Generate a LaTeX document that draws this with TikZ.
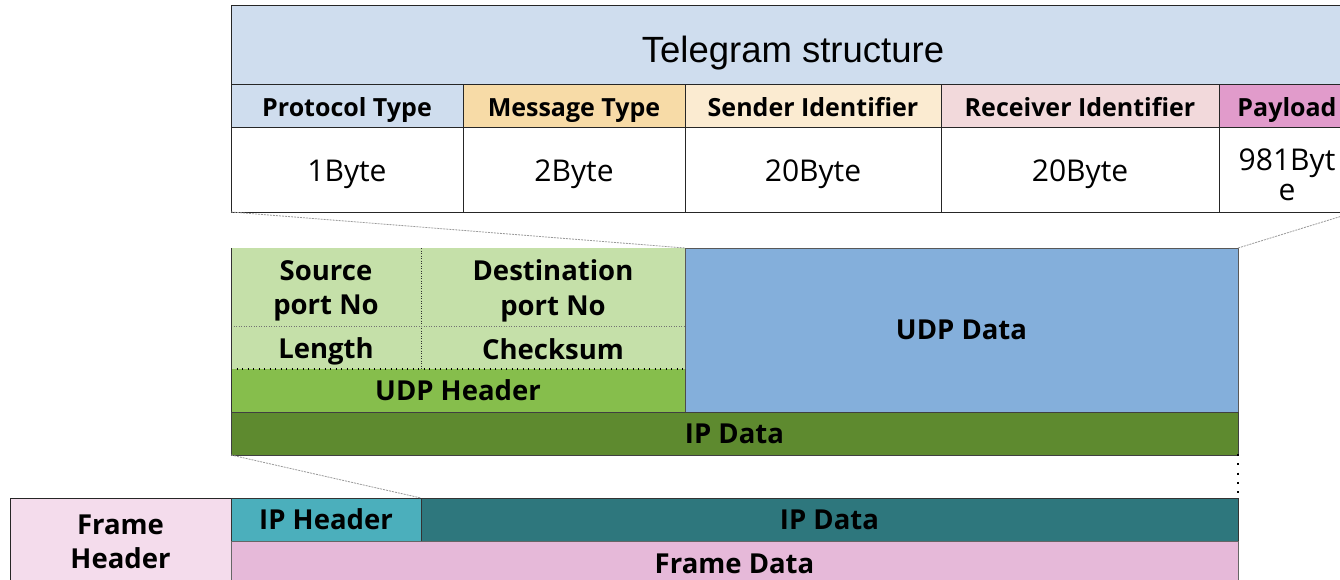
\documentclass[tikz,border=0pt]{standalone}
\usepackage{fontspec}
\setmainfont{Open Sans}
\newfontfamily\titlefont{Liberation Sans}

% fill colours
\definecolor{tblue}{HTML}{CFDDEE}
\definecolor{msgtan}{HTML}{F7DBA7}
\definecolor{sndcream}{HTML}{FBEBD1}
\definecolor{rcvrose}{HTML}{F2D9DB}
\definecolor{paymag}{HTML}{E19BCB}
\definecolor{udplight}{HTML}{C5E0A9}
\definecolor{udpmid}{HTML}{86BE4C}
\definecolor{ipgreen}{HTML}{5E8A2F}
\definecolor{udpblue}{HTML}{84AFDB}
\definecolor{iphteal}{HTML}{4BAFBC}
\definecolor{ipdteal}{HTML}{2E777D}
\definecolor{framepink}{HTML}{E6B9D9}
\definecolor{fhpink}{HTML}{F4DCEC}

\tikzset{
  box/.style={anchor=north west, inner sep=0pt, outer sep=0pt, align=center, text=black},
  tcell/.style={box, draw=black!85, line width=1pt},
  txt/.style={inner sep=0pt, align=center, text=black},
  titlefnt/.style={txt, font=\titlefont\fontsize{36.5}{40}\selectfont},
  hdrfont/.style={txt, font=\fontsize{25}{28}\selectfont\bfseries, text height=18pt, text depth=0pt},
  valfont/.style={txt, font=\fontsize{30}{31}\selectfont},
  lblfont/.style={font=\fontsize{27.5}{34.5}\selectfont\bfseries},
  blk/.style={box, lblfont},
  lbl/.style={txt, lblfont},
  zoomline/.style={draw=black!40, line width=0.8pt, dash pattern=on 2pt off 1pt},
}

\begin{document}
\begin{tikzpicture}[x=1pt, y=-1pt]
\useasboundingbox (0,0) rectangle (1340,580);
\clip (0,0) rectangle (1340,580);

% ---------- telegram table ----------
\node[tcell, fill=tblue, minimum width=1124pt, minimum height=79pt] (title) at (231,6) {};

\node[tcell, fill=tblue,    minimum width=232pt, minimum height=43pt] (hproto) at (231,85)  {};
\node[tcell, fill=msgtan,   minimum width=222pt, minimum height=43pt] (hmsg)   at (463,85)  {};
\node[tcell, fill=sndcream, minimum width=256pt, minimum height=43pt] (hsnd)   at (685,85)  {};
\node[tcell, fill=rcvrose,  minimum width=278pt, minimum height=43pt] (hrcv)   at (941,85)  {};
\node[tcell, fill=paymag,   minimum width=136pt, minimum height=43pt] (hpay)   at (1219,85) {};

\node[tcell, fill=white, minimum width=232pt, minimum height=84pt] (vproto) at (231,128)  {};
\node[tcell, fill=white, minimum width=222pt, minimum height=84pt] (vmsg)   at (463,128)  {};
\node[tcell, fill=white, minimum width=256pt, minimum height=84pt] (vsnd)   at (685,128)  {};
\node[tcell, fill=white, minimum width=278pt, minimum height=84pt] (vrcv)   at (941,128)  {};
\node[tcell, fill=white, minimum width=136pt, minimum height=84pt] (vpay)   at (1219,128) {};

\node[titlefnt] (titlet) at ([yshift=-8pt]title.center) {Telegram structure};
\node[hdrfont] (hprotot) at ([yshift=-1.5pt]hproto.center) {Protocol Type};
\node[hdrfont] (hmsgt)   at ([yshift=-1.5pt]hmsg.center)   {Message Type};
\node[hdrfont] (hsndt)   at ([yshift=-1.5pt]hsnd.center)   {Sender Identifier};
\node[hdrfont] (hrcvt)   at ([yshift=-1.5pt]hrcv.center)   {Receiver Identifier};
\node[hdrfont] (hpayt)   at ([yshift=-1.5pt]hpay.center)   {Payload};
\node[valfont] (vprotot) at ([yshift=-4pt]vproto.center) {1Byte};
\node[valfont] (vmsgt)   at ([yshift=-4pt]vmsg.center)   {2Byte};
\node[valfont] (vsndt)   at ([yshift=-4pt]vsnd.center)   {20Byte};
\node[valfont] (vrcvt)   at ([yshift=-4pt]vrcv.center)   {20Byte};
\node[valfont] (vpayt)   at ([yshift=-5pt]vpay.center)   {981Byt\\[-1pt]e};

% ---------- UDP datagram ----------
\node[blk, fill=udplight, minimum width=190pt, minimum height=78pt] (srcp) at (231,248) {};
\node[blk, fill=udplight, minimum width=264pt, minimum height=78pt] (dstp) at (421,248) {};
\node[blk, fill=udplight, minimum width=190pt, minimum height=43pt] (len)  at (231,326) {};
\node[blk, fill=udplight, minimum width=264pt, minimum height=43pt] (cks)  at (421,326) {};
\node[blk, fill=udpmid, minimum width=454pt, minimum height=43pt] (udph) at (231,369) {UDP Header};
\node[blk, fill=udpblue, draw=black!65, line width=0.8pt, minimum width=553pt, minimum height=164pt] (udpd) at (685,248) {UDP Data};
\node[blk, fill=ipgreen, draw=black!75, line width=0.8pt, minimum width=1007pt, minimum height=43pt] (ipd1) at (231,412) {IP Data};

\node[lbl] (srcl) at ([yshift=-4pt]srcp.center) {Source\\port No};
\node[lbl] (dstl) at ([yshift=-4pt]dstp.center) {Destination\\port No};
\node[lbl] (lenl) at ([yshift=-4pt]len.center)  {Length};
\node[lbl] (cksl) at ([yshift=-2pt]cks.center)  {Checksum};

% field separators inside the UDP header
\draw[black!80, line width=0.6pt, dash pattern=on 1pt off 1.5pt] (srcp.north east) -- (len.south east);
\draw[black!55, line width=0.6pt, dash pattern=on 1pt off 1.5pt] (srcp.south west) -- (dstp.south east);
\draw[black, line width=1.3pt, dash pattern=on 1.3pt off 4.2pt] (len.south west) -- (cks.south east);
\draw[black!80, line width=0.8pt] (srcp.north west) -- (udph.south west);
\draw[black!70, line width=0.6pt] (udph.north east) -- (udph.south east);

% ---------- frame ----------
\node[blk, fill=fhpink, draw=black!85, line width=0.8pt, minimum width=221pt, minimum height=88pt] (fh) at (10,498) {Frame\\Header};
\node[blk, fill=iphteal, draw=black!80, line width=0.8pt, minimum width=190pt, minimum height=43pt] (iph) at (231,498) {IP Header};
\node[blk, fill=ipdteal, draw=black!80, line width=0.8pt, minimum width=817pt, minimum height=43pt] (ipd2) at (421,498) {IP Data};
\node[blk, fill=framepink, draw=black!60, line width=0.8pt, minimum width=1007pt, minimum height=45pt] (fd) at (231,541) {Frame Data};

% ---------- zoom guides between the layers ----------
\draw[zoomline] (vproto.south west) -- (udpd.north west);
\draw[zoomline] (udpd.north east) -- (vpay.south east);
\draw[zoomline] (ipd1.south west) -- (iph.north east);
\draw[black, line width=2pt, dash pattern=on 2pt off 7.3pt] ([yshift=1pt]ipd1.south east) -- (ipd2.north east);
\end{tikzpicture}
\end{document}
